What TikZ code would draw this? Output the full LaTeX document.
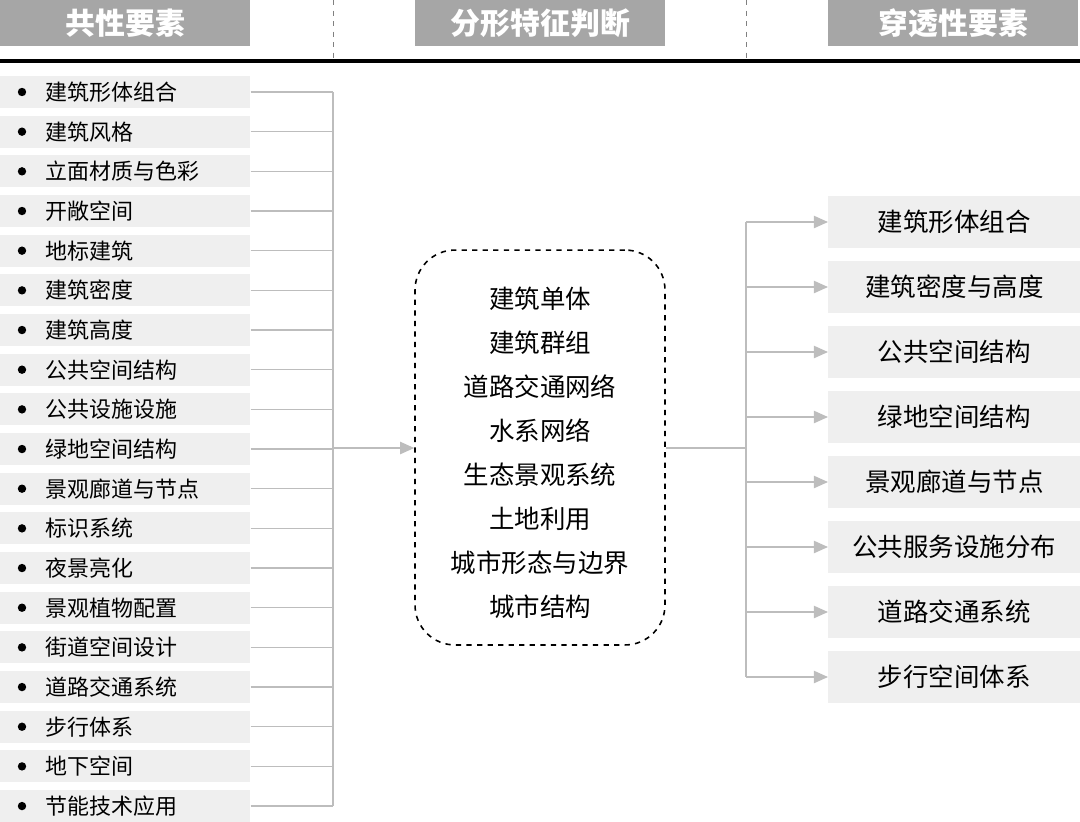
\documentclass[tikz,border=0pt]{standalone}
\usepackage{fontspec}
\setmainfont{Noto Sans CJK SC}
\newfontfamily\cjkb{Noto Sans CJK SC Bold}
\usetikzlibrary{arrows.meta}
\definecolor{hdr}{HTML}{A6A6A6}
\definecolor{lbox}{HTML}{EFEFEF}
\definecolor{ln}{HTML}{BDBDBD}
\begin{document}
\begin{tikzpicture}[x=0.02cm,y=-0.02cm,
  hbox/.style={fill=hdr,minimum width=5cm,minimum height=0.92cm,text=white,font=\fontsize{17}{17}\selectfont\bfseries,anchor=north west,inner sep=0},
  litem/.style={fill=lbox,minimum width=5cm,minimum height=0.64cm,anchor=west,inner sep=0},
  ritem/.style={fill=lbox,minimum width=5.04cm,minimum height=1.04cm,anchor=west,inner sep=0,font=\fontsize{14.5}{14.5}\selectfont},
  conn/.style={draw=ln,line width=0.7pt},
  arr/.style={conn,-{Triangle[length=8pt,width=7pt,fill=ln]}}]
\useasboundingbox (0,0) rectangle (1080,822);
\node[hbox] (h1) at (0,0) {共性要素};
\node[hbox] (h2) at (415,0) {分形特征判断};
\node[hbox] (h3) at (828,0) {穿透性要素};
\draw[gray,dashed,line width=0.5pt] (333,0) -- (333,60) (746,0) -- (746,60);
\draw[black,line width=2.2pt] (0,61) -- (1080,61);
\coordinate (vtop) at (333,92);
\foreach \t [count=\i] in {建筑形体组合,建筑风格,立面材质与色彩,开敞空间,地标建筑,建筑密度,建筑高度,公共空间结构,公共设施设施,绿地空间结构,景观廊道与节点,标识系统,夜景亮化,景观植物配置,街道空间设计,道路交通系统,步行体系,地下空间,节能技术应用}{
  \pgfmathsetmacro\yy{92+(\i-1)*39.67}
  \node[litem] (l\i) at (0,\yy) {};
  \fill (22,\yy) circle (4.2);
  \node[anchor=west,inner sep=0,font=\fontsize{12.5}{12.5}\selectfont] (lt\i) at (45,\yy) {\t};
  \coordinate (c\i) at (333,\yy);
  \draw[conn] (l\i.east) -- (c\i);
}
\draw[conn] (c1) -- (c19);
\node[draw,dashed,line width=0.9pt,rounded corners=0.8cm,minimum width=5cm,minimum height=7.9cm,inner sep=0] (mid) at (540,447.5) {};
\foreach \t [count=\i] in {建筑单体,建筑群组,道路交通网络,水系网络,生态景观系统,土地利用,城市形态与边界,城市结构}{
  \pgfmathsetmacro\yy{299+(\i-1)*44}
  \node[font=\fontsize{14.5}{14.5}\selectfont,inner sep=0] (m\i) at (540,\yy) {\t};
}
\coordinate (jin) at (333,448);
\draw[arr] (jin) -- (mid.west|-jin);
\coordinate (jout) at (746,448);
\draw[conn] (mid.east|-jout) -- (jout);
\foreach \t [count=\i] in {建筑形体组合,建筑密度与高度,公共空间结构,绿地空间结构,景观廊道与节点,公共服务设施分布,道路交通系统,步行空间体系}{
  \pgfmathsetmacro\yy{222+(\i-1)*65}
  \node[ritem] (r\i) at (828,\yy) {\t};
  \coordinate (d\i) at (746,\yy);
  \draw[arr] (d\i) -- (r\i.west);
}
\draw[conn] (d1) -- (d8);
\end{tikzpicture}
\end{document}
